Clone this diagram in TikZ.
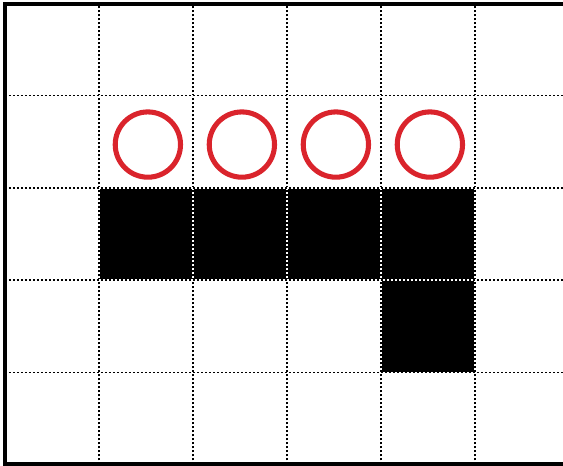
\documentclass[tikz,border=0pt]{standalone}
\usepackage{tikz}
\usepackage{xcolor}
\definecolor{ringred}{RGB}{218,36,44}

\begin{document}
\begin{tikzpicture}[x=2.808cm,y=2.754cm,
  gridline/.style={line width=1.1pt,dash pattern=on 1.7pt off 1.7pt,
    preaction={draw=white,solid,line width=1.1pt}},
  ring/.style={draw=ringred,line width=4.3pt},
  frame/.style={line width=3.4pt}]
\useasboundingbox (-0.053,-0.016) rectangle (5.936,5.038);
% black cells
\fill (1,2) rectangle (5,3);
\fill (4,1) rectangle (5,2);
% grid
\draw[gridline] (1,0) -- (1,5);
\draw[gridline] (2,0) -- (2,5);
\draw[gridline] (3,0) -- (3,5);
\draw[gridline] (4,0) -- (4,5);
\draw[gridline] (5,0) -- (5,5);
\draw[gridline] (0,1) -- (6.2,1);
\draw[gridline] (0,2) -- (6.2,2);
\draw[gridline] (0,3) -- (6.2,3);
\draw[gridline] (0,4) -- (6.2,4);
% circles
\draw[ring] (1.52,3.47) circle (0.975cm);
\draw[ring] (2.52,3.47) circle (0.975cm);
\draw[ring] (3.52,3.47) circle (0.975cm);
\draw[ring] (4.52,3.47) circle (0.975cm);
% frame
\draw[frame] (0,0) rectangle (6.2,5);
\end{tikzpicture}
\end{document}
